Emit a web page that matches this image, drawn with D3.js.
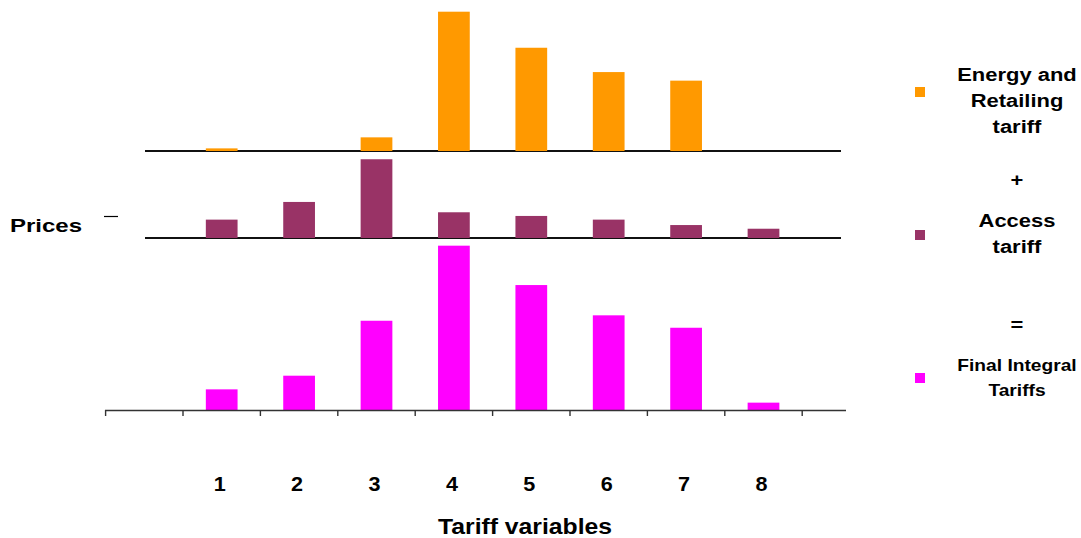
<!DOCTYPE html>
<html>
<head>
<meta charset="utf-8">
<script src="https://cdn.jsdelivr.net/npm/d3@7"></script>
<style>
  html, body { margin: 0; padding: 0; background: #fff; }
  svg { display: block; font-family: "Liberation Sans", Arial, sans-serif; font-weight: bold; }
</style>
</head>
<body>
<svg id="chart" width="1081" height="538"></svg>
<script>
// ---- data (arbitrary price units) ----
const slots = ["0", "1", "2", "3", "4", "5", "6", "7", "8"]; // slot "0" is an empty band
const categories = ["1", "2", "3", "4", "5", "6", "7", "8"];
const energyRetailing = [1.5, 0, 7.8, 79.6, 59.0, 45.1, 40.2, 0];
const accessTariff   = [10.5, 20.6, 45.0, 14.7, 12.6, 10.5, 7.4, 5.3];
const finalIntegral  = [11.8, 19.6, 51.0, 93.9, 71.4, 54.1, 47.0, 4.2];
const legendItems = [
  { lines: ["Energy and", "Retailing", "tariff"], color: "#FF9900" },
  { lines: ["Access", "tariff"], color: "#993366" },
  { lines: ["Final Integral", "Tariffs"], color: "#FF00FF" }
];
const xTitle = "Tariff variables";
const yTitle = "Prices";

// ---- layout ----
const svg = d3.select("#chart");
const x = d3.scaleBand().domain(slots).range([105.6, 802.2]).padding(0);
const barW = x.bandwidth() * 0.41;
const unitPx = 1.75; // px per price unit, same in every panel
const panels = [
  { data: energyRetailing, base: 151, color: "#FF9900" },
  { data: accessTariff,   base: 238, color: "#993366" },
  { data: finalIntegral,  base: 410, color: "#FF00FF" }
];

// panel baselines (top two)
[151, 238].forEach(b => {
  svg.append("line").attr("x1", 145).attr("x2", 841).attr("y1", b).attr("y2", b)
    .attr("stroke", "#111").attr("stroke-width", 2);
});

panels.forEach(p => {
  const y = d3.scaleLinear().domain([0, 100]).range([p.base, p.base - 100 * unitPx]);
  svg.append("g").selectAll("rect").data(p.data.map((v, i) => ({ v, c: categories[i] })))
    .join("rect")
    .attr("x", d => x(d.c) + (x.bandwidth() - barW) / 2)
    .attr("width", barW)
    .attr("y", d => y(d.v))
    .attr("height", d => p.base - y(d.v))
    .attr("fill", p.color);
});

// bottom axis
svg.append("line").attr("x1", 105).attr("x2", 846).attr("y1", 410.5).attr("y2", 410.5)
  .attr("stroke", "#333").attr("stroke-width", 1.6);
const boundaries = slots.map(s => x(s)).concat([x.range()[1]]);
svg.append("g").selectAll("line").data(boundaries).join("line")
  .attr("x1", d => d).attr("x2", d => d).attr("y1", 410).attr("y2", 416)
  .attr("stroke", "#333").attr("stroke-width", 1.4);

function stretchedText(sel, tx, ty, str, size, sx, anchor) {
  return sel.append("text")
    .attr("transform", `translate(${tx},${ty}) scale(${sx},1)`)
    .attr("text-anchor", anchor || "middle")
    .attr("font-size", size)
    .attr("fill", "#000")
    .text(str);
}

// tick labels
categories.forEach(c => {
  stretchedText(svg, x(c) + x.bandwidth() / 2 - 2, 491, c, 20, 1.08);
});

// axis titles
stretchedText(svg, 525, 534, xTitle, 21.5, 1.15);
stretchedText(svg, 10, 232, yTitle, 19.2, 1.25, "start");
svg.append("line").attr("x1", 104).attr("x2", 118).attr("y1", 216.5).attr("y2", 216.5)
  .attr("stroke", "#000").attr("stroke-width", 1.2);

// legend
const legendLayout = [
  { sq: 87, baselines: [81, 107, 133], size: 18.3 },
  { sq: 230, baselines: [227, 253], size: 18.3 },
  { sq: 373, baselines: [371, 396], size: 16 }
];
legendItems.forEach((it, i) => {
  const L = legendLayout[i];
  svg.append("rect").attr("x", 915).attr("y", L.sq).attr("width", 10).attr("height", 10)
    .attr("fill", it.color);
  it.lines.forEach((ln, j) => stretchedText(svg, 1017, L.baselines[j], ln, L.size, 1.2));
});
stretchedText(svg, 1017, 186, "+", 18.3, 1.2);
stretchedText(svg, 1017, 331, "=", 18.3, 1.2);
</script>
</body>
</html>
